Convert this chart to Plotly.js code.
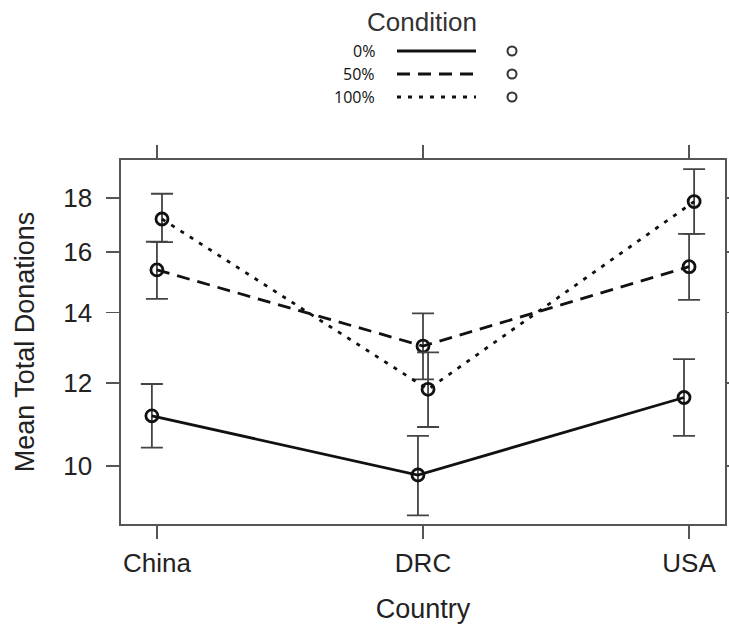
<!DOCTYPE html>
<html>
<head>
<meta charset="utf-8">
<script src="https://cdn.plot.ly/plotly-3.0.1.min.js"></script>
<style>
  html, body { margin: 0; padding: 0; background: #ffffff; }
  #chart { width: 729px; height: 628px; }
</style>
</head>
<body>
<div id="chart"></div>
<script>
// Mean total donations by country and matching condition, with error bars
const countries = ['China', 'DRC', 'USA'];
const conditions = ['0%', '50%', '100%'];

const mean0 = [11.16, 9.80, 11.62];
const upper0 = [11.97, 10.68, 12.64];
const lower0 = [10.41, 8.97, 10.68];

const mean50 = [15.38, 13.01, 15.49];
const upper50 = [16.36, 13.98, 16.65];
const lower50 = [14.43, 12.09, 14.40];

const mean100 = [17.20, 11.83, 17.87];
const upper100 = [18.18, 12.83, 19.19];
const lower100 = [16.35, 10.89, 16.65];

const yTicks = [10, 12, 14, 16, 18];

// presentation
const W = 729, H = 628;
const M = { l: 121, r: 4, t: 160, b: 104 };
const dashStyles = ['solid', '13px,8px', '4px,7px'];
const dodge = [-0.019, 0, 0.019];
const ink = '#111111';
const frame = '#555555';
const FONT = '"Liberation Sans", Arial, sans-serif';

const means = [mean0, mean50, mean100];
const uppers = [upper0, upper50, upper100];
const lowers = [lower0, lower50, lower100];

const traces = conditions.map((c, k) => ({
  type: 'scatter',
  mode: 'lines+markers',
  name: c,
  x: countries.map((_, i) => i + dodge[k]),
  y: means[k],
  line: { color: ink, width: 2.8, dash: dashStyles[k] },
  marker: { symbol: 'circle-open', size: 12, color: ink, line: { width: 2.8, color: ink } },
  error_y: {
    type: 'data',
    symmetric: false,
    array: means[k].map((m, i) => uppers[k][i] - m),
    arrayminus: means[k].map((m, i) => m - lowers[k][i]),
    color: '#444444',
    thickness: 1.8,
    width: 11
  },
  showlegend: false,
  hoverinfo: 'skip'
}));

// key above the panel, placed in pixel units converted to paper coordinates
const pw = W - M.l - M.r, ph = H - M.t - M.b;
const px = x => (x - M.l) / pw;
const py = y => (H - M.b - y) / ph;

const keyRows = [51, 74, 97];
const annotations = [{
  xref: 'paper', yref: 'paper', x: px(422), y: py(22),
  text: 'Condition', showarrow: false, xanchor: 'center', yanchor: 'middle',
  font: { family: FONT, size: 26, color: '#333333' }
}];
const shapes = [];
conditions.forEach((c, k) => {
  annotations.push({
    xref: 'paper', yref: 'paper', x: px(377), y: py(keyRows[k]),
    text: c, showarrow: false, xanchor: 'right', yanchor: 'middle',
    font: { family: '"Open Sans", sans-serif', size: 16, color: '#111111' }
  });
  shapes.push({
    type: 'line', xref: 'paper', yref: 'paper',
    x0: px(397), x1: px(476), y0: py(keyRows[k]), y1: py(keyRows[k]),
    line: { color: ink, width: 3.2, dash: dashStyles[k] }
  });
  shapes.push({
    type: 'circle', xref: 'paper', yref: 'paper',
    x0: px(507.5), x1: px(516.5), y0: py(keyRows[k] - 4.5), y1: py(keyRows[k] + 4.5),
    line: { color: '#333333', width: 2 }
  });
});

const layout = {
  width: W, height: H,
  margin: M,
  paper_bgcolor: '#ffffff',
  plot_bgcolor: '#ffffff',
  font: { family: FONT, color: '#222222' },
  xaxis: {
    range: [-0.135, 2.135],
    tickvals: countries.map((_, i) => i),
    ticktext: countries,
    ticks: 'outside', ticklen: 13, tickwidth: 1.6, tickcolor: frame,
    showline: true, linecolor: frame, linewidth: 1.6, mirror: 'ticks',
    showgrid: false, zeroline: false,
    tickfont: { family: FONT, size: 26, color: '#222222' },
    ticklabelstandoff: 2,
    title: { text: 'Country', font: { family: FONT, size: 27, color: '#222222' }, standoff: 22 },
    automargin: false
  },
  yaxis: {
    type: 'log',
    range: [Math.log10(8.80), Math.log10(19.58)],
    tickvals: yTicks,
    ticktext: yTicks.map(String),
    ticks: 'outside', ticklen: 13, tickwidth: 1.6, tickcolor: frame,
    showline: true, linecolor: frame, linewidth: 1.6, mirror: 'ticks',
    showgrid: false, zeroline: false,
    tickfont: { family: FONT, size: 26, color: '#222222' },
    ticklabelstandoff: 9,
    title: { text: 'Mean Total Donations', font: { family: FONT, size: 27, color: '#222222' }, standoff: 21 },
    automargin: false
  },
  annotations: annotations,
  shapes: shapes
};

Plotly.newPlot('chart', traces, layout, { staticPlot: true, displayModeBar: false });
</script>
</body>
</html>
